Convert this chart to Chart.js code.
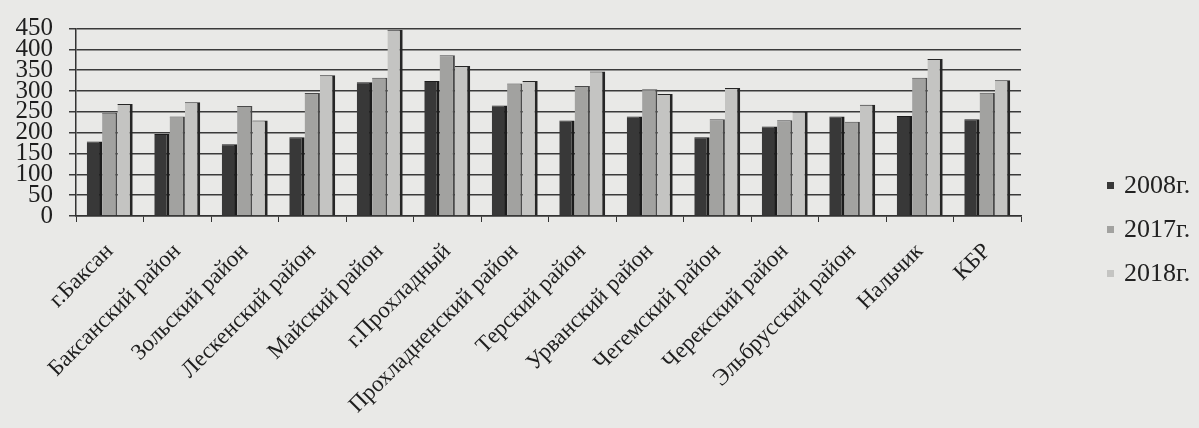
<!DOCTYPE html>
<html>
<head>
<meta charset="utf-8">
<script src="https://cdn.jsdelivr.net/npm/chart.js@4"></script>
<style>
  html, body { margin: 0; padding: 0; background: #e9e9e7; overflow: hidden; }
  #wrap { position: relative; width: 1199px; height: 428px; }
  #legend { position: absolute; left: 1107px; top: 163px; font-family: 'Liberation Serif', serif;
            font-size: 26px; color: #222; line-height: 44px; white-space: nowrap; }
  #legend span.box { display: inline-block; width: 7px; height: 7px; margin-right: 10px;
                     vertical-align: 4px; }
</style>
</head>
<body>
<div id="wrap">
  <canvas id="regionChart" width="1199" height="428"></canvas>
  <div id="legend"></div>
</div>
<script>
    var districts = ['г.Баксан', 'Баксанский район', 'Зольский район', 'Лескенский район',
        'Майский район', 'г.Прохладный', 'Прохладненский район', 'Терский район',
        'Урванский район', 'Чегемский район', 'Черекский район', 'Эльбрусский район',
        'Нальчик', 'КБР'];
    var values2008 = [179, 197, 172, 189, 321, 324, 265, 229, 239, 189, 215, 239, 240, 232];
    var values2017 = [248, 239, 264, 295, 332, 386, 318, 312, 304, 232, 230, 226, 332, 296];
    var values2018 = [269, 273, 229, 338, 447, 360, 324, 347, 293, 307, 250, 267, 377, 326];

    var ctx = document.getElementById('regionChart').getContext('2d');
    var regionChart = new Chart(ctx, {
        type: 'bar',
        data: {
            labels: districts,
            datasets: [{
                label: '2008г.',
                data: values2008,
                backgroundColor: '#383838',
                borderColor: '#1c1c1c',
                borderWidth: { right: 3, top: 1 },
                borderSkipped: 'bottom'
            }, {
                label: '2017г.',
                data: values2017,
                backgroundColor: '#a2a2a0',
                borderColor: '#4a4a4a',
                borderWidth: { right: 2, top: 1 },
                borderSkipped: 'bottom'
            }, {
                label: '2018г.',
                data: values2018,
                backgroundColor: '#c4c4c2',
                borderColor: '#262626',
                borderWidth: { right: 3, top: 1 },
                borderSkipped: 'bottom'
            }]
        },
        options: {
            responsive: false,
            animation: false,
            layout: { padding: { left: 0, top: 8, right: 178, bottom: 0 } },
            datasets: {
                bar: { categoryPercentage: 0.68, barPercentage: 1.0 }
            },
            scales: {
                x: {
                    afterFit: function (axis) { axis.height = 212; },
                    grid: {
                        display: true,
                        drawOnChartArea: false,
                        offset: true,
                        color: '#333',
                        tickLength: 6
                    },
                    border: { color: '#333', width: 1.5 },
                    ticks: {
                        color: '#1e1e1e',
                        minRotation: 45,
                        maxRotation: 45,
                        autoSkip: false,
                        padding: 16,
                        font: { family: 'Liberation Serif', size: 23 }
                    }
                },
                y: {
                    min: 0,
                    max: 450,
                    afterFit: function (axis) { axis.width = 76; },
                    grid: { color: '#3a3a3a', lineWidth: 1.5, tickLength: 7 },
                    border: { color: '#333', width: 1.5 },
                    ticks: {
                        stepSize: 50,
                        autoSkip: false,
                        color: '#1e1e1e',
                        padding: 16,
                        font: { family: 'Liberation Serif', size: 25, lineHeight: 1 }
                    }
                }
            },
            plugins: {
                legend: { display: false },
                tooltip: { enabled: false }
            }
        }
    });

    var legendEl = document.getElementById('legend');
    regionChart.data.datasets.forEach(function (ds) {
        var row = document.createElement('div');
        var box = document.createElement('span');
        box.className = 'box';
        box.style.background = ds.backgroundColor;
        row.appendChild(box);
        row.appendChild(document.createTextNode(ds.label));
        legendEl.appendChild(row);
    });
</script>
</body>
</html>
